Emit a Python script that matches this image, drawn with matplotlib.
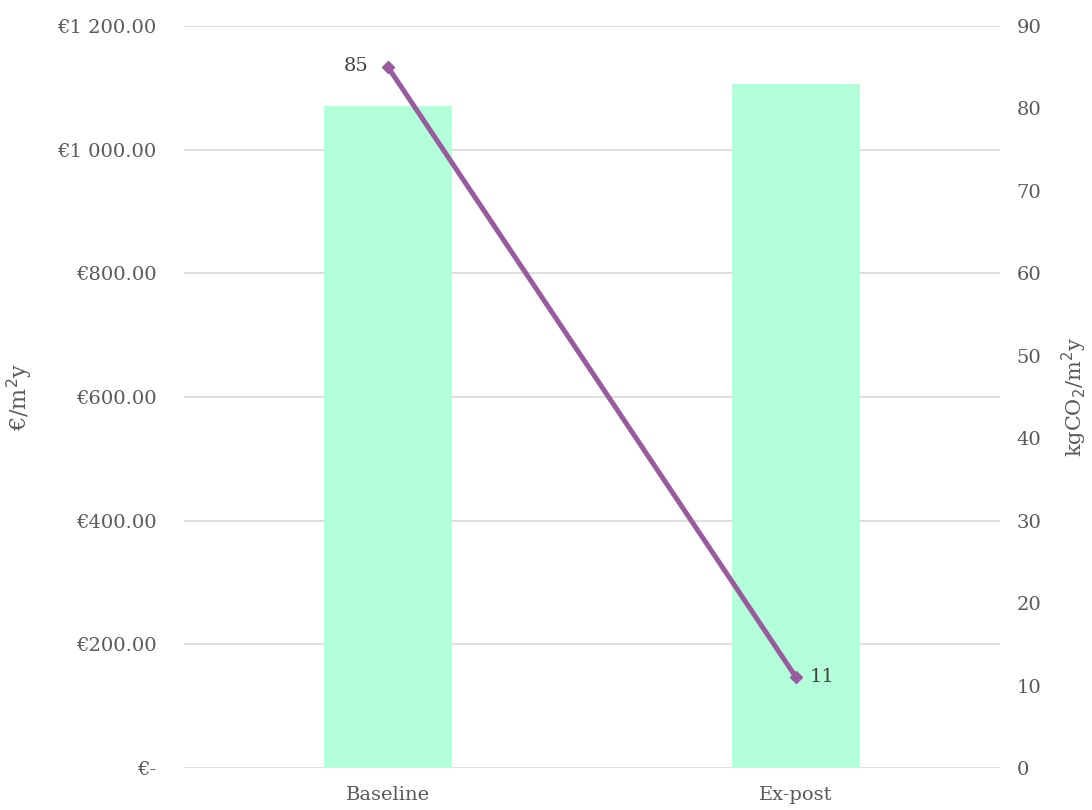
import matplotlib.pyplot as plt
from matplotlib.ticker import FuncFormatter, MultipleLocator

categories = ['Baseline', 'Ex-post']
cost = [1071, 1106]          # €/m²y
emissions = [85, 11]         # kgCO2/m²y

plt.rcParams['font.family'] = ['DejaVu Serif']
text_col = '#595959'

fig = plt.figure(figsize=(10.92, 8.1), dpi=100)
ax = fig.add_axes([0.1685, 0.0519, 0.7473, 0.9161])
ax2 = ax.twinx()

x = list(range(len(categories)))
ax.bar(x, cost, width=0.314, color='#B3FFD9', zorder=2)
ax.set_xlim(-0.5, 1.5)
ax.set_ylim(0, 1200)
ax.yaxis.set_major_locator(MultipleLocator(200))


def euro(v, pos):
    if v == 0:
        return '€-'
    return '€' + f'{v:,.2f}'.replace(',', ' ')


ax.yaxis.set_major_formatter(FuncFormatter(euro))
ax.grid(axis='y', color='#D9D9D9', linewidth=1.2, zorder=0)
ax.set_axisbelow(True)
ax.set_xticks(x)
ax.set_xticklabels(categories)
ax.set_ylabel('€/m$^2$y', color=text_col, fontsize=16)
ax.yaxis.set_label_coords(-0.183, 0.5)

ax2.plot(x, emissions, color='#985B9E', linewidth=3.6, marker='D', markersize=6, zorder=3)
ax2.set_ylim(0, 90)
ax2.yaxis.set_major_locator(MultipleLocator(10))
ax2.set_ylabel('kgCO$_2$/m$^2$y', color=text_col, fontsize=15)
ax2.yaxis.set_label_coords(1.073, 0.5)
ax2.annotate(str(emissions[0]), (x[0], emissions[0]), xytext=(-14, 1), textcoords='offset points',
             ha='right', va='center', fontsize=14, color='#404040')
ax2.annotate(str(emissions[1]), (x[1], emissions[1]), xytext=(10, 0), textcoords='offset points',
             ha='left', va='center', fontsize=14, color='#404040')

for a in (ax, ax2):
    for s in a.spines.values():
        s.set_visible(False)
    a.tick_params(length=0, labelsize=14, labelcolor=text_col)
ax.tick_params(axis='y', pad=20)
ax.tick_params(axis='x', pad=13)
ax2.tick_params(axis='y', pad=12)

fig.savefig('out.png', dpi=100)
